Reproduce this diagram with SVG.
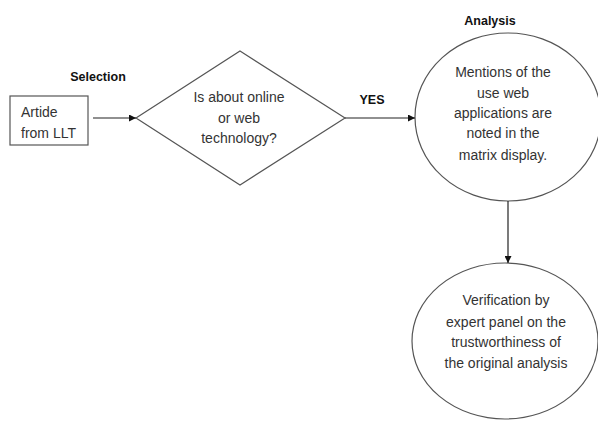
<svg xmlns="http://www.w3.org/2000/svg" width="598" height="421" viewBox="0 0 598 421">
<defs>
<style>
.shape{fill:none;stroke:#555;stroke-width:1.2}
.t{font-family:"Liberation Sans",Arial,sans-serif;font-size:14px;fill:#333;text-anchor:middle}
.b{font-family:"Liberation Sans",Arial,sans-serif;font-size:12.5px;font-weight:bold;fill:#111;text-anchor:middle}
.conn{stroke:#222;stroke-width:1.2;fill:none;marker-end:url(#ah)}
</style>
<marker id="ah" viewBox="0 0 10 10" refX="10" refY="5" markerWidth="7" markerHeight="7" markerUnits="userSpaceOnUse" orient="auto">
<path d="M0,0 L10,5 L0,10 z" fill="#111"/>
</marker>
</defs>
<rect width="598" height="421" fill="#fff"/>
<text class="b" x="98" y="81">Selection</text>
<text class="b" x="490" y="25">Analysis</text>
<text class="b" x="372" y="104">YES</text>
<g id="article">
<rect class="shape" x="10" y="96" width="78" height="49"/>
<text class="t" x="21" y="117" style="text-anchor:start">Artide</text>
<text class="t" x="21" y="138" style="text-anchor:start">from LLT</text>
</g>
<g id="decision">
<polygon class="shape" points="240,51 345,118 240,185 136,118"/>
<text class="t" x="239" y="102">Is about online</text>
<text class="t" x="239" y="123">or web</text>
<text class="t" x="239" y="143">technology?</text>
</g>
<g id="analysis">
<ellipse class="shape" cx="508" cy="117" rx="93" ry="84"/>
<text class="t" x="503" y="77">Mentions of the</text>
<text class="t" x="503" y="98">use web</text>
<text class="t" x="503" y="118">applications are</text>
<text class="t" x="503" y="138">noted in the</text>
<text class="t" x="503" y="160">matrix display.</text>
</g>
<g id="verification">
<ellipse class="shape" cx="505" cy="341" rx="93" ry="78"/>
<text class="t" x="506" y="305">Verification by</text>
<text class="t" x="506" y="327">expert panel on the</text>
<text class="t" x="506" y="347">trustworthiness of</text>
<text class="t" x="506" y="368">the original analysis</text>
</g>
<g id="connectors">
<line class="conn" x1="93" y1="118" x2="136" y2="118"/>
<line class="conn" x1="345" y1="118" x2="415" y2="118"/>
<line class="conn" x1="508" y1="201" x2="508" y2="263"/>
</g>
</svg>
